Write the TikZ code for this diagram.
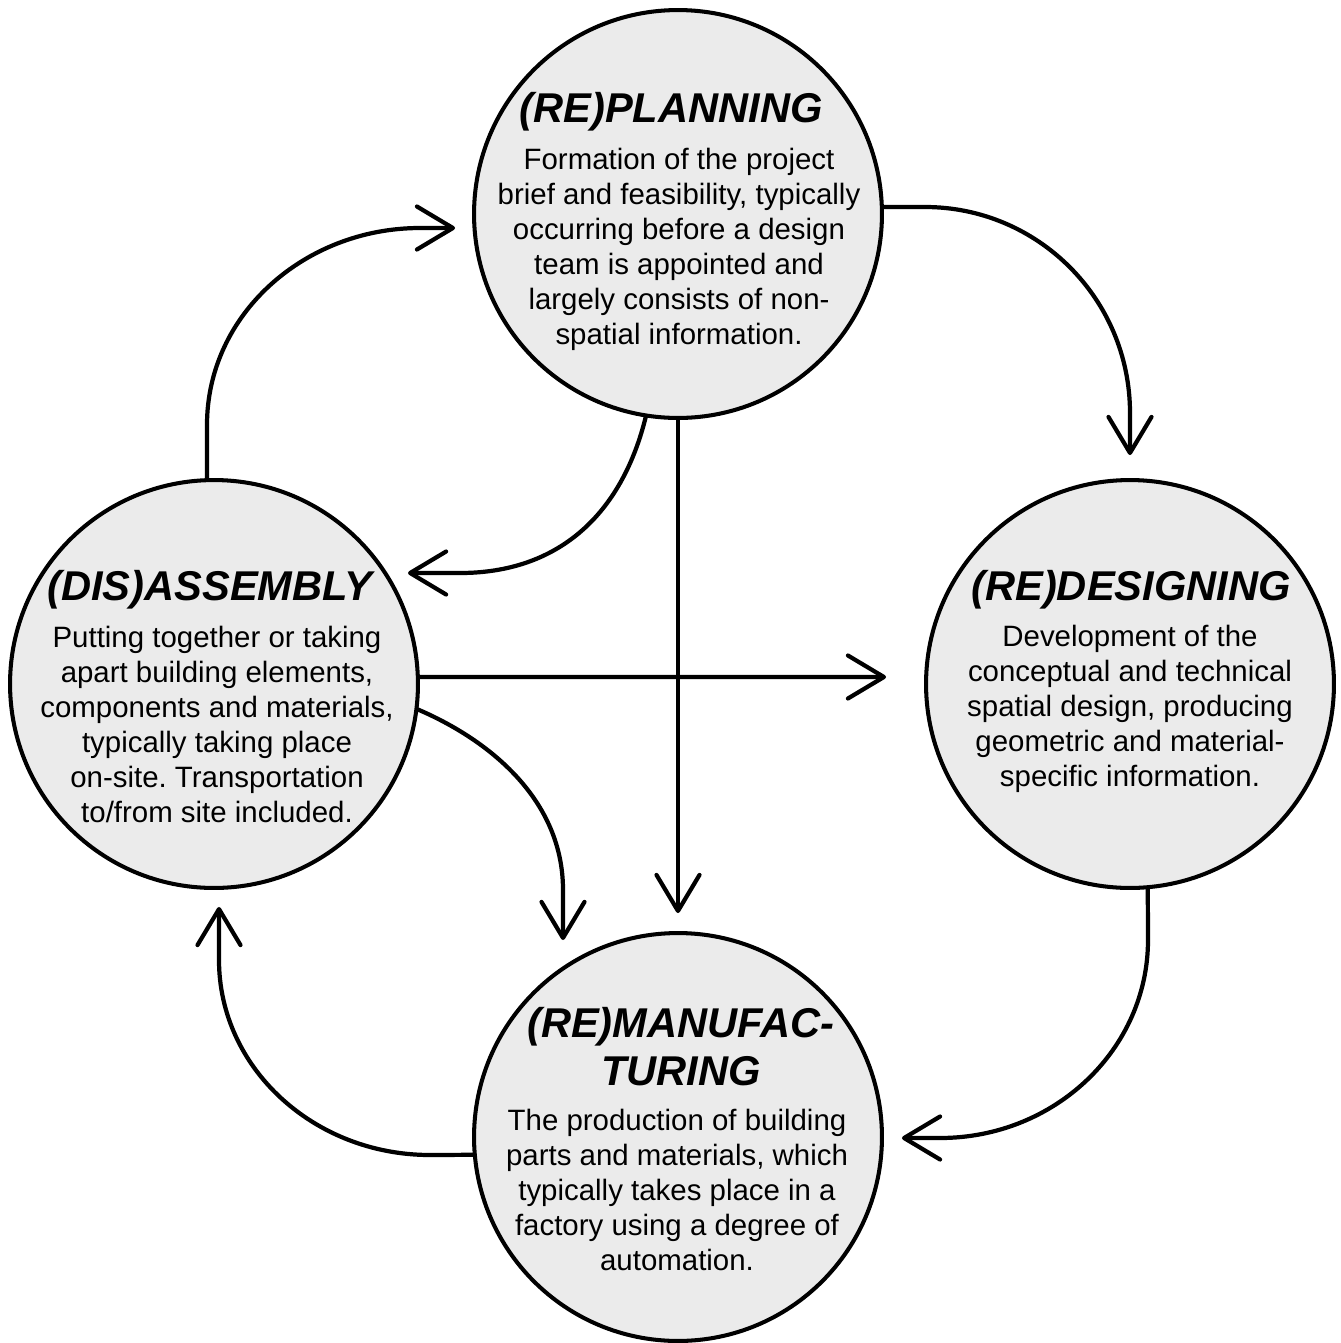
\documentclass[tikz,border=0pt]{standalone}
\usepackage{fontspec}
\setmainfont{Liberation Sans}
\usetikzlibrary{arrows.meta,calc}
\definecolor{circfill}{RGB}{235,235,235}
\frenchspacing
\tikzset{
  stage/.style={circle, draw=black, line width=2.3pt, fill=circfill,
    minimum size=8.16cm, inner sep=0pt, outer sep=0pt},
  ttl/.style={font=\fontsize{23.7}{27.3}\selectfont\bfseries\itshape,
    align=center, anchor=base, inner sep=0pt},
  body/.style={font=\fontsize{16.75}{19.9}\selectfont,
    align=center, anchor=base, inner sep=0pt},
  flow/.style={line width=2.4pt, draw=black,
    -{Straight Barb[length=0.72cm, width=0.86cm, round]}}
}
\begin{document}
\begin{tikzpicture}[x=0.02cm, y=-0.02cm]
\useasboundingbox (0,0) rectangle (1340,1343);
\node[stage] (plan) at (678,214) {};
\node[stage] (assem) at (214,684) {};
\node[stage] (design) at (1130,684) {};
\node[stage] (manu) at (678,1137) {};

% base anchor = baseline of the last line
\node[ttl] (plan-t) at (671,122) {(RE)PLANNING};
\node[body] (plan-b) at (679,344) {Formation of the project\\brief and feasibility, typically\\occurring before a design\\team is appointed and\\largely consists of non-\\spatial information.};

\node[ttl] (assem-t) at (210,600) {(DIS)ASSEMBLY};
\node[body] (assem-b) at (217,822) {Putting together or taking\\apart building elements,\\components and materials,\\typically taking place\\on-site. Transportation\\to/from site included.};

\node[ttl] (design-t) at (1131,600) {(RE)DESIGNING};
\node[body] (design-b) at (1130,786) {Development of the\\conceptual and technical\\spatial design, producing\\geometric and material-\\specific information.};

\node[ttl] (manu-t) at (681,1085) {(RE)MANUFAC-\\TURING};
\node[body] (manu-b) at (677,1270) {The production of building\\parts and materials, which\\typically takes place in a\\factory using a degree of\\automation.};

\draw[flow] (assem.92) -- (207,425) .. controls (207,314) and (305,228) .. (420,228) -- ($(plan.west)+(-19,14)$);
\draw[flow] (plan.2) -- (925,207) .. controls (1038,207) and (1130,299) .. (1130,413) -- ($(design.north)+(0,-25)$);
\draw[flow] (plan.261) .. controls (622,515) and (558,573) .. (460,573) -- ($(assem.center)+(194,-111)$);
\draw[flow] (plan.south) -- ($(manu.north)+(0,-20)$);
\draw[flow] (assem.2) -- ($(design.west)+(-40,-7)$);
\draw[flow] (assem.-7) .. controls (490,740) and (563,800) .. (563,890) -- ($(manu.center)+(-115,-197)$);
\draw[flow] (design.-85) -- (1148,940) .. controls (1148,1049) and (1055,1138) .. (940,1138) -- ($(manu.east)+(20,1)$);
\draw[flow] (manu.185) -- (430,1155) .. controls (314,1155) and (219,1068) .. (219,960) -- ($(assem.south)+(5,19)$);
\end{tikzpicture}
\end{document}
